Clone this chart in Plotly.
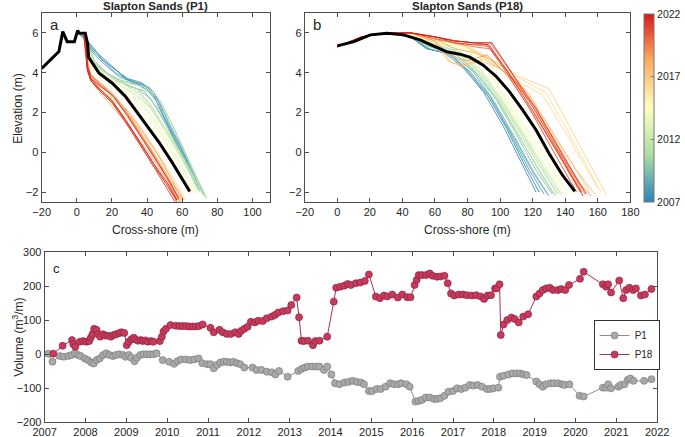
import plotly.graph_objects as go
from plotly.colors import sample_colorscale

W, H = 685, 437
FONT = "Liberation Sans, Arial, sans-serif"
TXT = "#262626"
AX = "#4d4d4d"

# colour map for survey year (blue = 2007 ... red = 2022)
cmap = [[0, "#2b83ba"], [0.25, "#abdda4"], [0.5, "#ffffbf"], [0.75, "#fdae61"], [1, "#d7191c"]]
year_min, year_max = 2007, 2022
cbar_ticks = [2007, 2012, 2017, 2022]

# --- panel a : profiles at P1 (cross-shore m, elevation m)
p1_years = [2007.2, 2007.5, 2007.7, 2008.3, 2009.2, 2009.7, 2010.0, 2010.6, 2011.0, 2011.8, 2012.0,
            2012.5, 2013.3, 2013.8, 2014.2, 2015.0, 2016.2, 2016.7, 2017.0, 2017.8, 2018.3, 2018.8,
            2019.0, 2019.8, 2020.3, 2020.7, 2021.0, 2021.5, 2021.9]
p1_x = [
    [2, 5, 9, 14, 20, 28, 36, 44, 52, 60, 68],
    [2, 5, 9, 14, 21, 29, 37, 44, 52, 61, 69],
    [2, 5, 9, 15, 22, 30, 38, 45, 53, 62, 70],
    [3, 6, 10, 16, 24, 32, 40, 47, 56, 64, 71],
    [3, 6, 9, 15, 22, 30, 38, 46, 55, 64, 72],
    [3, 6, 10, 17, 25, 33, 41, 48, 57, 66, 73],
    [4, 7, 10, 18, 26, 34, 42, 50, 60, 69],
    [4, 7, 10, 18, 26, 34, 42, 50, 59, 68, 74],
    [4, 7, 10, 18, 26, 34, 42, 50, 60, 70],
    [4, 7, 11, 19, 27, 35, 43, 52, 62, 72],
    [4, 7, 11, 18, 26, 34, 42, 50, 60, 70],
    [4, 7, 11, 19, 27, 36, 44, 53, 63, 73],
    [4, 7, 11, 18, 26, 34, 42, 50, 59, 68],
    [4, 7, 10, 17, 25, 33, 41, 49, 58, 67],
    [5, 7, 10, 17, 25, 33, 41, 49, 58, 66],
    [5, 7, 10, 16, 24, 32, 40, 48, 57, 65],
    [5, 6, 8, 14, 22, 30, 38, 46, 55, 62],
    [5, 6, 8, 14, 21, 29, 37, 45, 53, 60],
    [5, 6, 8, 14, 22, 30, 38, 46, 54, 61],
    [5, 6, 8, 13, 20, 28, 36, 44, 52, 58],
    [5, 6, 8, 14, 22, 30, 38, 46, 54, 60],
    [5, 6, 8, 13, 21, 29, 37, 45, 53, 60],
    [5, 6, 8, 14, 21, 29, 37, 45, 53, 59],
    [5, 6, 8, 13, 20, 28, 36, 44, 52, 58],
    [5, 6, 8, 13, 20, 28, 36, 44, 51, 57],
    [5, 6, 8, 13, 20, 27, 35, 43, 51, 57],
    [5, 6, 8, 13, 20, 28, 36, 43, 50, 56],
    [4, 6, 8, 14, 21, 29, 37, 45, 53, 58],
    [4, 6, 8, 13, 20, 28, 36, 44, 52, 57],
]
p1_z = [
    [5.9, 5.7, 5.2, 4.8, 4.3, 3.7, 3.4, 2.8, 1.3, -0.2, -1.7],
    [5.9, 5.7, 5.3, 4.7, 4.2, 3.7, 3.5, 3.0, 1.5, -0.1, -1.8],
    [5.9, 5.6, 5.1, 4.6, 4.0, 3.6, 3.4, 2.6, 1.2, -0.4, -1.9],
    [5.9, 5.5, 4.9, 4.4, 3.8, 3.5, 3.3, 2.5, 0.9, -0.6, -2.0],
    [5.9, 5.5, 4.6, 4.1, 3.6, 3.3, 3.1, 2.2, 0.7, -0.8, -2.1],
    [5.9, 5.4, 4.6, 4.0, 3.6, 3.4, 3.3, 2.5, 0.9, -0.8, -2.2],
    [5.9, 5.3, 4.5, 3.9, 3.5, 3.2, 2.7, 1.5, -0.2, -1.9],
    [5.9, 5.3, 4.5, 3.9, 3.6, 3.4, 3.0, 1.9, 0.4, -1.2, -2.3],
    [5.9, 5.2, 4.4, 3.9, 3.5, 3.2, 2.4, 1.2, -0.3, -2.0],
    [5.9, 5.1, 4.3, 3.8, 3.4, 3.0, 2.2, 1.0, -0.5, -2.2],
    [5.9, 5.1, 4.3, 3.7, 3.3, 2.9, 2.2, 1.1, -0.4, -2.0],
    [5.9, 5.0, 4.3, 3.8, 3.4, 2.9, 2.0, 0.8, -0.7, -2.3],
    [5.9, 5.0, 4.2, 3.7, 3.3, 2.8, 1.9, 0.9, -0.6, -2.0],
    [5.9, 5.0, 4.2, 3.6, 3.2, 2.7, 1.9, 0.8, -0.6, -2.1],
    [5.9, 4.9, 4.1, 3.6, 3.1, 2.5, 1.7, 0.7, -0.7, -2.0],
    [5.9, 4.8, 4.0, 3.5, 3.0, 2.4, 1.5, 0.5, -0.9, -2.1],
    [5.9, 4.8, 3.8, 3.2, 2.6, 1.9, 1.0, 0.0, -1.3, -2.4],
    [5.9, 4.7, 3.6, 3.0, 2.4, 1.7, 0.8, -0.3, -1.5, -2.5],
    [5.9, 4.7, 3.7, 3.1, 2.5, 1.8, 0.9, -0.1, -1.3, -2.4],
    [5.9, 4.6, 3.6, 3.0, 2.3, 1.5, 0.6, -0.4, -1.5, -2.5],
    [5.9, 4.5, 3.8, 3.3, 2.7, 2.0, 1.0, -0.1, -1.4, -2.4],
    [5.9, 4.5, 3.9, 3.5, 2.9, 2.0, 0.9, -0.2, -1.4, -2.3],
    [5.9, 4.4, 3.8, 3.4, 2.8, 1.9, 0.8, -0.3, -1.5, -2.5],
    [5.9, 4.4, 3.9, 3.4, 2.9, 2.0, 0.9, -0.2, -1.4, -2.4],
    [5.9, 4.3, 3.7, 3.2, 2.6, 1.6, 0.5, -0.6, -1.6, -2.5],
    [5.9, 4.3, 3.6, 3.1, 2.5, 1.6, 0.5, -0.6, -1.6, -2.4],
    [5.9, 4.2, 3.6, 3.1, 2.5, 1.5, 0.4, -0.6, -1.6, -2.5],
    [5.9, 4.3, 3.7, 3.3, 2.8, 1.8, 0.7, -0.4, -1.5, -2.3],
    [5.9, 4.1, 3.6, 3.2, 2.6, 1.6, 0.5, -0.6, -1.6, -2.4],
]
p1_mean_x = [-20, -10.2, -8.0, -5.5, -1.4, 0.5, 1.4, 4.8, 6.1, 6.7, 8.9, 12.7, 20.2, 27.7, 33.3,
             40.8, 46.5, 54.0, 64.3]
p1_mean_z = [4.22, 5.06, 6.07, 5.56, 5.56, 6.12, 5.98, 5.98, 5.48, 4.78, 4.48, 3.97, 3.47, 2.80,
             2.13, 1.21, 0.54, -0.47, -1.97]

# --- panel b : profiles at P18
p18_years = [2007.2, 2007.6, 2008.0, 2008.8, 2009.0, 2009.5, 2010.3, 2010.7, 2011.0, 2011.8, 2012.2,
             2012.6, 2013.5, 2014.0, 2014.4, 2015.2, 2016.0, 2016.3, 2016.6, 2017.2, 2017.8, 2018.4,
             2018.8, 2019.2, 2019.7, 2020.2, 2020.8, 2021.4, 2021.9]
p18_x = [
    [0, 15, 30, 45, 55, 68, 80, 92, 104, 116, 124],
    [0, 15, 30, 45, 55, 66, 78, 90, 102, 114, 122],
    [0, 15, 30, 45, 56, 70, 82, 94, 106, 118, 127],
    [0, 15, 30, 45, 57, 70, 84, 96, 108, 120, 130],
    [0, 15, 30, 45, 57, 70, 82, 95, 108, 120, 129],
    [0, 15, 30, 45, 58, 72, 85, 98, 110, 122, 132],
    [0, 15, 30, 45, 58, 72, 86, 98, 111, 124, 134],
    [0, 15, 30, 45, 58, 72, 86, 99, 112, 125, 133],
    [0, 15, 30, 45, 60, 72, 86, 100, 112, 125, 135],
    [0, 15, 30, 45, 60, 74, 88, 100, 113, 126, 136],
    [0, 15, 30, 45, 60, 74, 88, 101, 114, 127, 138],
    [0, 15, 30, 45, 60, 74, 88, 102, 114, 127, 137],
    [0, 15, 30, 45, 60, 75, 90, 102, 115, 128, 139],
    [0, 15, 30, 45, 60, 75, 90, 103, 117, 130, 141],
    [0, 15, 30, 45, 60, 75, 90, 104, 118, 131, 142],
    [0, 15, 30, 45, 60, 75, 92, 106, 120, 134, 146],
    [0, 15, 30, 45, 60, 76, 92, 110, 128, 146, 162],
    [0, 15, 30, 45, 60, 76, 93, 110, 126, 143, 160],
    [0, 15, 30, 45, 60, 76, 94, 112, 130, 148, 165],
    [0, 15, 30, 45, 60, 68, 76, 88, 100, 115, 130, 145, 155],
    [0, 15, 30, 45, 60, 70, 78, 90, 102, 118, 132, 146, 158],
    [0, 15, 30, 45, 60, 72, 85, 95, 108, 122, 136, 150],
    [0, 15, 30, 45, 60, 70, 80, 92, 105, 120, 135, 149],
    [0, 15, 30, 45, 60, 72, 84, 94, 106, 120, 134, 148, 156],
    [0, 15, 30, 45, 60, 72, 84, 94, 107, 122, 138, 152],
    [0, 15, 30, 45, 60, 72, 84, 94, 106, 120, 136, 150],
    [0, 15, 30, 45, 60, 72, 84, 92, 104, 118, 133, 147],
    [0, 15, 30, 45, 60, 72, 84, 95, 108, 122, 138, 153],
    [0, 15, 30, 45, 60, 72, 84, 93, 105, 120, 136, 151],
]
p18_z = [
    [5.3, 5.8, 6.0, 5.8, 5.2, 5.0, 4.1, 2.9, 1.2, -0.8, -2.0],
    [5.3, 5.8, 6.0, 5.8, 5.2, 5.0, 4.2, 3.0, 1.3, -0.7, -2.0],
    [5.3, 5.8, 6.0, 5.8, 5.2, 4.9, 4.0, 2.8, 1.0, -0.9, -2.1],
    [5.3, 5.8, 6.0, 5.8, 5.3, 5.0, 4.0, 2.6, 0.9, -0.9, -2.2],
    [5.3, 5.8, 6.0, 5.8, 5.2, 4.9, 3.8, 2.6, 0.8, -1.0, -2.1],
    [5.3, 5.8, 6.0, 5.8, 5.3, 5.0, 4.0, 2.6, 0.9, -0.9, -2.1],
    [5.3, 5.8, 6.0, 5.8, 5.3, 5.0, 3.9, 2.7, 0.9, -0.9, -2.2],
    [5.3, 5.8, 6.0, 5.8, 5.3, 5.0, 4.0, 2.6, 0.8, -1.1, -2.1],
    [5.3, 5.8, 6.0, 5.8, 5.4, 5.1, 4.1, 2.6, 1.0, -0.8, -2.1],
    [5.3, 5.8, 6.0, 5.9, 5.4, 5.1, 4.0, 2.7, 1.0, -0.8, -2.1],
    [5.3, 5.8, 6.0, 5.9, 5.4, 5.1, 4.1, 2.6, 0.9, -0.8, -2.2],
    [5.3, 5.8, 6.0, 5.9, 5.5, 5.2, 4.2, 2.6, 1.0, -0.8, -2.0],
    [5.3, 5.8, 6.0, 5.9, 5.5, 5.3, 4.4, 2.8, 1.0, -0.7, -2.1],
    [5.3, 5.8, 6.0, 5.9, 5.5, 5.4, 4.4, 2.8, 1.0, -0.6, -2.0],
    [5.3, 5.8, 6.0, 5.9, 5.6, 5.4, 4.5, 2.9, 1.0, -0.6, -2.1],
    [5.3, 5.8, 6.0, 6.0, 5.7, 5.5, 4.6, 3.0, 1.2, -0.5, -2.1],
    [5.3, 5.8, 6.0, 6.0, 5.7, 5.5, 4.8, 3.8, 3.0, 0.4, -2.0],
    [5.3, 5.8, 6.0, 6.0, 5.7, 5.4, 4.7, 3.6, 2.9, 0.6, -1.8],
    [5.3, 5.8, 6.0, 6.0, 5.7, 5.4, 4.7, 3.8, 3.2, 0.5, -2.1],
    [5.3, 5.8, 6.0, 6.0, 5.5, 4.6, 4.3, 4.6, 4.2, 3.2, 1.3, -0.7, -2.0],
    [5.3, 5.8, 6.0, 6.0, 5.6, 4.5, 4.4, 4.7, 4.1, 2.9, 1.0, -0.8, -2.1],
    [5.3, 5.8, 6.0, 6.0, 5.7, 5.2, 5.0, 4.6, 3.6, 2.1, 0.1, -1.9],
    [5.3, 5.8, 6.0, 6.0, 5.6, 4.8, 4.6, 4.9, 3.8, 2.0, 0.0, -2.0],
    [5.3, 5.8, 6.0, 6.0, 5.7, 5.5, 5.4, 5.3, 3.9, 2.3, 0.3, -1.5, -2.2],
    [5.3, 5.8, 6.0, 6.0, 5.7, 5.5, 5.3, 5.2, 3.8, 2.2, 0.0, -2.1],
    [5.3, 5.8, 6.0, 6.0, 5.8, 5.6, 5.5, 5.5, 4.1, 2.3, 0.0, -2.0],
    [5.3, 5.8, 6.0, 6.0, 5.8, 5.5, 5.4, 5.4, 4.0, 2.2, 0.0, -2.0],
    [5.3, 5.8, 6.0, 6.0, 5.8, 5.6, 5.5, 5.5, 3.9, 2.2, -0.1, -2.1],
    [5.3, 5.8, 6.0, 6.0, 5.8, 5.6, 5.5, 5.4, 4.0, 2.1, -0.1, -2.2],
]
p18_mean_x = [0, 10.2, 20.3, 30.5, 40.7, 50.8, 60.0, 67.1, 75.2, 81.3, 89.4, 97.6, 105.7, 113.8,
              122.0, 130.0, 138.2, 145.9]
p18_mean_z = [5.35, 5.56, 5.90, 5.98, 5.90, 5.65, 5.31, 5.06, 4.93, 4.78, 4.39, 3.81, 3.05, 2.13,
              1.13, -0.05, -1.14, -1.97]

# --- panel c : beach volume time series (decimal year, m3/m)
p1_t = [2007.09, 2007.19, 2007.37, 2007.47, 2007.58, 2007.66, 2007.74, 2007.82, 2007.88, 2007.98,
        2008.06, 2008.14, 2008.20, 2008.27, 2008.35, 2008.43, 2008.51, 2008.59, 2008.67, 2008.74,
        2008.83, 2008.92, 2008.98, 2009.06, 2009.12, 2009.20, 2009.26, 2009.34, 2009.42, 2009.50,
        2009.58, 2009.66, 2009.74, 2009.89, 2010.05, 2010.17, 2010.25, 2010.34, 2010.46, 2010.56,
        2010.66, 2010.77, 2010.86, 2010.98, 2011.06, 2011.14, 2011.22, 2011.30, 2011.38, 2011.46,
        2011.54, 2011.62, 2011.71, 2011.79, 2011.89, 2012.09, 2012.19, 2012.31, 2012.44, 2012.56,
        2012.65, 2012.74, 2012.95, 2013.21, 2013.29, 2013.37, 2013.45, 2013.55, 2013.65, 2013.73,
        2013.84, 2013.92, 2014.02, 2014.11, 2014.22, 2014.34, 2014.44, 2014.54, 2014.65, 2014.75,
        2014.82, 2014.94, 2015.02, 2015.13, 2015.23, 2015.35, 2015.46, 2015.55, 2015.65, 2015.73,
        2015.86, 2015.94, 2016.08, 2016.16, 2016.24, 2016.33, 2016.43, 2016.53, 2016.61, 2016.69,
        2016.79, 2016.89, 2017.00, 2017.10, 2017.20, 2017.30, 2017.41, 2017.50, 2017.60, 2017.71,
        2017.83, 2017.91, 2017.99, 2018.11, 2018.15, 2018.24, 2018.36, 2018.46, 2018.56, 2018.64,
        2018.72, 2018.80, 2019.04, 2019.12, 2019.20, 2019.28, 2019.39, 2019.47, 2019.57, 2019.67,
        2019.73, 2019.85, 2020.10, 2020.20, 2020.67, 2020.75, 2020.80, 2020.87, 2021.05, 2021.11,
        2021.20, 2021.28, 2021.34, 2021.42, 2021.68, 2021.86]
p1_vol = [1, -23, -6, -8, -6, -3, 2, -3, -6, -13,
          -18, -25, -28, -18, -13, -3, 2, -3, -6, -3,
          -1, -3, -8, -3, -11, -21, -11, -3, -1, -1,
          -1, -1, 2, -18, -23, -29, -21, -16, -16, -18,
          -16, -13, -27, -30, -30, -42, -32, -25, -23, -23,
          -25, -23, -27, -30, -40, -40, -47, -47, -52, -54,
          -60, -50, -67, -50, -44, -40, -37, -37, -37, -37,
          -47, -37, -60, -86, -89, -84, -82, -79, -82, -84,
          -89, -109, -109, -103, -103, -96, -86, -89, -89, -86,
          -89, -96, -140, -138, -135, -128, -128, -132, -132, -130,
          -123, -111, -109, -101, -103, -99, -91, -93, -91, -96,
          -103, -103, -101, -99, -67, -64, -60, -57, -57, -57,
          -60, -62, -81, -89, -96, -89, -86, -86, -86, -89,
          -91, -89, -123, -125, -99, -99, -89, -101, -96, -91,
          -89, -76, -72, -79, -79, -74]

p18_t = [2007.21, 2007.44, 2007.67, 2007.70, 2007.75, 2007.86, 2007.94, 2008.02, 2008.09, 2008.13,
         2008.17, 2008.21, 2008.27, 2008.31, 2008.36, 2008.43, 2008.49, 2008.56, 2008.62, 2008.69,
         2008.75, 2008.82, 2008.88, 2008.95, 2009.01, 2009.06, 2009.12, 2009.18, 2009.22, 2009.28,
         2009.35, 2009.40, 2009.47, 2009.53, 2009.61, 2009.66, 2009.82, 2009.87, 2009.91, 2009.97,
         2010.08, 2010.21, 2010.30, 2010.38, 2010.46, 2010.54, 2010.62, 2010.70, 2010.78, 2010.87,
         2011.06, 2011.14, 2011.28, 2011.36, 2011.46, 2011.56, 2011.67, 2011.75, 2011.81, 2011.89,
         2011.97, 2012.05, 2012.15, 2012.23, 2012.34, 2012.44, 2012.56, 2012.64, 2012.72, 2012.84,
         2012.95, 2013.04, 2013.17, 2013.23, 2013.29, 2013.35, 2013.45, 2013.57, 2013.63, 2013.73,
         2013.92, 2014.08, 2014.14, 2014.24, 2014.34, 2014.42, 2014.50, 2014.62, 2014.73, 2014.84,
         2014.94,
         2015.11, 2015.21, 2015.31, 2015.39, 2015.51, 2015.65, 2015.76, 2015.88, 2015.96, 2016.06,
         2016.11, 2016.16, 2016.24, 2016.34, 2016.43, 2016.50, 2016.61, 2016.69, 2016.79, 2016.87,
         2016.95, 2017.03, 2017.14, 2017.24, 2017.34, 2017.46, 2017.57, 2017.68, 2017.76, 2017.85,
         2017.93, 2018.03, 2018.07, 2018.14, 2018.17, 2018.24, 2018.33, 2018.43, 2018.51, 2018.61,
         2018.72, 2018.84,
         2019.04, 2019.12, 2019.20, 2019.28, 2019.37, 2019.45, 2019.57, 2019.65, 2019.75, 2019.84,
         2020.11, 2020.20, 2020.67, 2020.75, 2020.80, 2020.87, 2021.07, 2021.17, 2021.24, 2021.32,
         2021.41, 2021.48, 2021.60, 2021.70, 2021.86]
p18_vol = [1, 24, 41, 29, 21, 36, 38, 36, 38, 48,
           58, 74, 71, 58, 51, 58, 54, 54, 51, 56,
           58, 61, 64, 62, 26, 36, 43, 48, 43, 39,
           41, 38, 40, 36, 38, 36, 38, 51, 66, 74,
           85, 83, 82, 82, 82, 81, 81, 81, 82, 87,
           77, 64, 71, 64, 59, 59, 64, 59, 68, 74,
           80, 95, 93, 98, 97, 105, 110, 115, 122, 126,
           128, 144, 166, 108, 39, 38, 39, 26, 38, 39,
           51, 154, 195, 198, 201, 206, 203, 208, 210, 215,
           234,
           169, 164, 172, 169, 175, 166, 175, 167, 167, 203,
           218, 232, 232, 232, 237, 230, 227, 228, 230, 208,
           178, 172, 175, 175, 173, 172, 173, 169, 162, 172,
           173, 193, 193, 205, 56, 87, 100, 107, 103, 93,
           110, 117,
           169, 178, 188, 193, 195, 188, 188, 191, 188, 203,
           221, 242, 205, 198, 205, 181, 216, 164, 188, 195,
           188, 193, 172, 175, 191]


def px_x(p):
    return p / W


def px_y(p):
    return 1 - p / H


def year_colour(y):
    return sample_colorscale(cmap, [(y - year_min) / (year_max - year_min)])[0]


fig = go.Figure()

# profiles, oldest first so recent surveys sit on top
for yr, xs, zs in zip(p1_years, p1_x, p1_z):
    fig.add_trace(go.Scatter(x=xs, y=zs, mode="lines", line=dict(color=year_colour(yr), width=0.9),
                             xaxis="x", yaxis="y", showlegend=False, hoverinfo="skip"))
fig.add_trace(go.Scatter(x=p1_mean_x, y=p1_mean_z, mode="lines", line=dict(color="black", width=3),
                         xaxis="x", yaxis="y", showlegend=False))

for yr, xs, zs in zip(p18_years, p18_x, p18_z):
    fig.add_trace(go.Scatter(x=xs, y=zs, mode="lines", line=dict(color=year_colour(yr), width=0.9),
                             xaxis="x2", yaxis="y2", showlegend=False, hoverinfo="skip"))
fig.add_trace(go.Scatter(x=p18_mean_x, y=p18_mean_z, mode="lines", line=dict(color="black", width=3),
                         xaxis="x2", yaxis="y2", showlegend=False))

# invisible trace that carries the year colour bar
fig.add_trace(go.Scatter(
    x=[-100, -100], y=[-100, -100], mode="markers", xaxis="x2", yaxis="y2", showlegend=False,
    marker=dict(color=[year_min, year_max], colorscale=cmap, cmin=year_min, cmax=year_max,
                opacity=0, size=1, showscale=True,
                colorbar=dict(thickness=10, len=188, lenmode="pixels", x=px_x(649), xanchor="left",
                              y=px_y(14), yanchor="top", outlinewidth=1, outlinecolor="#777",
                              tickvals=cbar_ticks, ticks="inside", ticklen=3, tickcolor="#777",
                              tickfont=dict(size=10.5, color=TXT, family=FONT), xpad=0, ypad=0)),
))

# volume series
fig.add_trace(go.Scatter(x=p1_t, y=p1_vol, mode="lines+markers", name="P1", xaxis="x3", yaxis="y3",
                         line=dict(color="#8c8c8c", width=1),
                         marker=dict(size=7, color="#a9a9a9", line=dict(color="#7a7a7a", width=0.7))))
fig.add_trace(go.Scatter(x=p18_t, y=p18_vol, mode="lines+markers", name="P18", xaxis="x3", yaxis="y3",
                         line=dict(color="#a8314f", width=1),
                         marker=dict(size=7, color="#c73a5c", line=dict(color="#8e2240", width=0.7))))

axis_style = dict(showline=True, linecolor=AX, linewidth=1, mirror="allticks", ticks="inside",
                  ticklen=4, tickcolor=AX, showgrid=False, zeroline=False, automargin=False,
                  tickfont=dict(size=11, color=TXT, family=FONT))

fig.update_layout(
    width=W, height=H,
    margin=dict(l=0, r=0, t=0, b=0),
    paper_bgcolor="white", plot_bgcolor="white",
    font=dict(family=FONT, color=TXT),
    xaxis=dict(domain=[px_x(42), px_x(272)], range=[-20, 110], tickvals=[-20, 0, 20, 40, 60, 80, 100],
               anchor="y", **axis_style),
    yaxis=dict(domain=[px_y(202), px_y(13)], range=[-2.5, 7], tickvals=[-2, 0, 2, 4, 6],
               anchor="x", **axis_style),
    xaxis2=dict(domain=[px_x(307), px_x(635)], range=[-20, 180], dtick=20, anchor="y2", **axis_style),
    yaxis2=dict(domain=[px_y(202), px_y(13)], range=[-2.5, 7], tickvals=[-2, 0, 2, 4, 6],
                anchor="x2", **axis_style),
    xaxis3=dict(domain=[px_x(45), px_x(662)], range=[2007, 2022], dtick=1, anchor="y3", **axis_style),
    yaxis3=dict(domain=[px_y(422), px_y(252)], range=[-200, 300], dtick=100, anchor="x3", **axis_style),
    legend=dict(x=px_x(598), y=px_y(320), xanchor="left", yanchor="top", bgcolor="white",
                bordercolor="#333", borderwidth=1, font=dict(size=10, color=TXT, family=FONT),
                tracegroupgap=0, itemwidth=30),
)

ann = [
    dict(text="<b>Slapton Sands (P1)</b>", x=px_x(157), y=px_y(6), size=11.5),
    dict(text="<b>Slapton Sands (P18)</b>", x=px_x(471), y=px_y(6), size=11.5),
    dict(text="Cross-shore (m)", x=px_x(157), y=px_y(230), size=12),
    dict(text="Cross-shore (m)", x=px_x(471), y=px_y(230), size=12),
    dict(text="a", x=px_x(55), y=px_y(24), size=15),
    dict(text="b", x=px_x(319), y=px_y(24), size=15),
    dict(text="c", x=px_x(57), y=px_y(268), size=13),
]
for a in ann:
    fig.add_annotation(text=a["text"], x=a["x"], y=a["y"], xref="paper", yref="paper",
                       showarrow=False, xanchor="center", yanchor="middle",
                       font=dict(size=a["size"], color=TXT, family=FONT))
fig.add_annotation(text="Elevation (m)", x=px_x(18), y=px_y(108), xref="paper", yref="paper",
                   showarrow=False, textangle=-90, xanchor="center", yanchor="middle",
                   font=dict(size=12, color=TXT, family=FONT))
fig.add_annotation(text="Volume (m<sup>3</sup>/m)", x=px_x(18), y=px_y(337), xref="paper", yref="paper",
                   showarrow=False, textangle=-90, xanchor="center", yanchor="middle",
                   font=dict(size=12, color=TXT, family=FONT))

# the page body has a default margin; drop it so the figure fills the window
fig.write_html("out.html", config={"displayModeBar": False},
               post_script="document.body.style.margin = '0';")
